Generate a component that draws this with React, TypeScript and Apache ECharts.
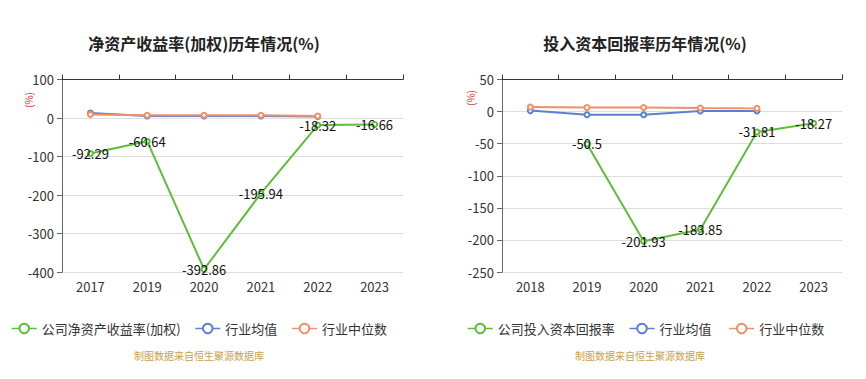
import React, { useEffect, useRef } from "react";
import * as echarts from "echarts";

const leftYears = ["2017", "2019", "2020", "2021", "2022", "2023"];
const leftCompany = [-92.29, -60.64, -392.86, -195.94, -18.32, -16.66];
const leftAvg = [13, 5, 5, 5, 4, null];
const leftMedian = [9, 7, 7, 7, 5, null];

const rightYears = ["2018", "2019", "2020", "2021", "2022", "2023"];
const rightCompany = [null, -50.5, -201.93, -183.85, -31.81, -18.27];
const rightAvg = [1.5, -5, -5, 1, 1, null];
const rightMedian = [7, 6.5, 6.5, 5.5, 5, null];

const GREEN = "#5DBE3A";
const BLUE = "#5B7FD1";
const ORANGE = "#F0906A";
const FONT = "'Noto Sans CJK SC', 'Noto Sans', sans-serif";

export default function App() {
  const ref = useRef<HTMLDivElement>(null);
  useEffect(() => {
    document.body.style.margin = "0";
    const chart = echarts.init(ref.current!, null, { renderer: "svg" });
    const labelStyle = {
      show: true,
      position: "inside" as const,
      color: "#111",
      fontSize: 13,
      fontFamily: FONT,
    };
    const mkX = (data: string[], gi: number) => [
      {
        type: "category",
        gridIndex: gi,
        data,
        position: "bottom",
        axisLine: { show: false },
        axisTick: { show: false },
        axisLabel: { color: "#333", fontSize: 13, fontFamily: FONT, margin: 8 },
      },
      {
        type: "category",
        gridIndex: gi,
        data,
        axisLine: { show: true, onZero: true, lineStyle: { color: "#333", width: 1 } },
        axisTick: { show: true, inside: false, lineStyle: { color: "#333" } },
        axisLabel: { show: false },
      },
    ];
    const mkY = (min: number, max: number, interval: number, gi: number) => ({
      type: "value",
      gridIndex: gi,
      min,
      max,
      interval,
      axisLine: { show: true, lineStyle: { color: "#666" } },
      axisTick: { show: true, lineStyle: { color: "#666" } },
      axisLabel: { color: "#333", fontSize: 13, fontFamily: FONT },
      splitLine: { show: true, lineStyle: { color: "#ddd", width: 1 } },
    });
    const lineSeries = (name: string, data: any[], color: string, xi: number, yi: number, label: boolean, z: number) => ({
      type: "line",
      name,
      data,
      xAxisIndex: xi,
      yAxisIndex: yi,
      symbol: "emptyCircle",
      symbolSize: 5,
      showSymbol: true,
      z,
      itemStyle: { color },
      lineStyle: { color, width: 2 },
      label: label ? labelStyle : { show: false },
    });
    const legendText = { color: "#333", fontSize: 13, fontFamily: FONT };
    const legendCommon = {
      top: 317,
      itemWidth: 25,
      itemHeight: 12,
      itemGap: 14,
      textStyle: legendText,
      lineStyle: { width: 1.5 },
      itemStyle: { borderWidth: 1.5 },
    };
    chart.setOption({
      animation: false,
      textStyle: { fontFamily: FONT },
      title: [
        {
          text: "净资产收益率(加权)历年情况(%)",
          left: 199,
          top: 30,
          textAlign: "center",
          textStyle: { fontSize: 16, fontWeight: "bold", color: "#222", fontFamily: FONT },
        },
        {
          text: "投入资本回报率历年情况(%)",
          left: 640,
          top: 30,
          textAlign: "center",
          textStyle: { fontSize: 16, fontWeight: "bold", color: "#222", fontFamily: FONT },
        },
      ],
      legend: [
        {
          ...legendCommon,
          left: 6,
          data: ["公司净资产收益率(加权)", "行业均值", "行业中位数"],
        },
        {
          ...legendCommon,
          left: 462,
          data: ["公司投入资本回报率", "行业均值 ", "行业中位数 "],
        },
      ],
      grid: [
        { left: 62, right: 463, top: 79.5, bottom: 107 },
        { left: 502, right: 24, top: 79.5, bottom: 107 },
      ],
      xAxis: [...mkX(leftYears, 0), ...mkX(rightYears, 1)],
      yAxis: [mkY(-400, 100, 100, 0), mkY(-250, 50, 50, 1)],
      series: [
        lineSeries("行业均值", leftAvg, BLUE, 0, 0, false, 3),
        lineSeries("行业中位数", leftMedian, ORANGE, 0, 0, false, 4),
        lineSeries("公司净资产收益率(加权)", leftCompany, GREEN, 0, 0, true, 5),
        lineSeries("行业均值 ", rightAvg, BLUE, 2, 1, false, 3),
        lineSeries("行业中位数 ", rightMedian, ORANGE, 2, 1, false, 4),
        lineSeries("公司投入资本回报率", rightCompany, GREEN, 2, 1, true, 5),
      ],
      graphic: [
        {
          type: "text",
          x: 28,
          y: 100,
          rotation: Math.PI / 2,
          style: { text: "(%)", fill: "#d9393b", fontSize: 10, fontFamily: FONT, align: "center", verticalAlign: "middle" },
        },
        {
          type: "text",
          x: 470,
          y: 98,
          rotation: Math.PI / 2,
          style: { text: "(%)", fill: "#d9393b", fontSize: 10, fontFamily: FONT, align: "center", verticalAlign: "middle" },
        },
        {
          type: "text",
          x: 199,
          y: 355,
          style: { text: "制图数据来自恒生聚源数据库", fill: "#c9a04f", fontSize: 10, fontFamily: FONT, align: "center", verticalAlign: "middle" },
        },
        {
          type: "text",
          x: 640,
          y: 355,
          style: { text: "制图数据来自恒生聚源数据库", fill: "#c9a04f", fontSize: 10, fontFamily: FONT, align: "center", verticalAlign: "middle" },
        },
      ],
    });
    return () => chart.dispose();
  }, []);
  return <div ref={ref} style={{ width: 866, height: 379 }} />;
}
